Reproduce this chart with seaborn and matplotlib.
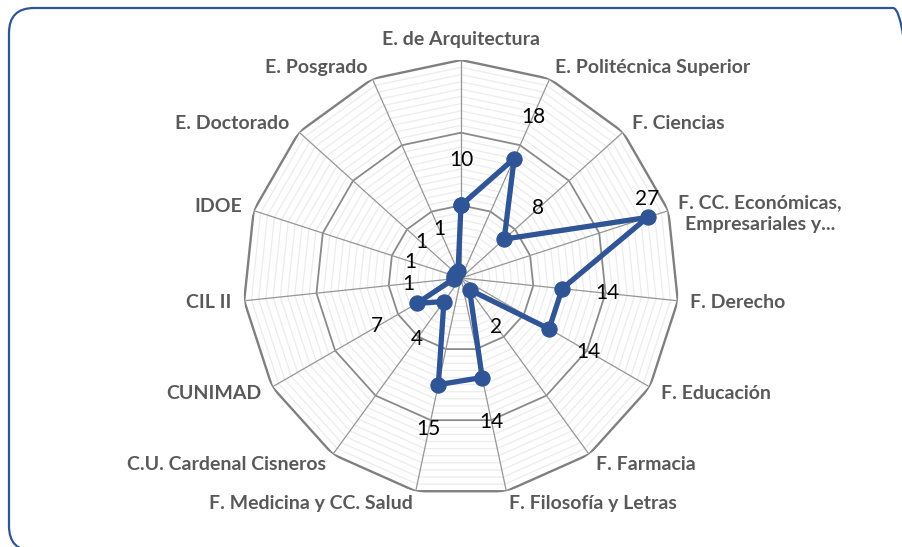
import numpy as np
import matplotlib
matplotlib.use("Agg")
import matplotlib.pyplot as plt
import seaborn as sns
from matplotlib.patches import FancyBboxPatch

# data
categories = ["E. de Arquitectura", "E. Politécnica Superior", "F. Ciencias",
              "F. CC. Económicas,\nEmpresariales y...", "F. Derecho", "F. Educación",
              "F. Farmacia", "F. Filosofía y Letras", "F. Medicina y CC. Salud",
              "C.U. Cardenal Cisneros", "CUNIMAD", "CIL II", "IDOE",
              "E. Doctorado", "E. Posgrado"]
values = [10, 18, 8, 27, 14, 14, 2, 14, 15, 4, 7, 1, 1, 1, 1]
r_max = 30
major_rings = [10, 20, 30]
minor_rings = [v for v in range(1, 30) if v % 10 != 0]

sns.set_style("white")
plt.rcParams["font.family"] = ["Lato", "DejaVu Sans"]

blue = "#2F5597"
n = len(categories)
theta = np.linspace(0, 2 * np.pi, n, endpoint=False)
theta_closed = np.append(theta, 2 * np.pi)

fig = plt.figure(figsize=(9.03, 5.47), dpi=100)
ax = fig.add_axes([243 / 903, 51 / 547, 436 / 903, 436 / 547], polar=True)
ax.set_theta_zero_location("N")
ax.set_theta_direction(-1)
ax.set_ylim(0, r_max)
ax.grid(False)
ax.spines["polar"].set_visible(False)
ax.set_xticks([])
ax.set_yticks([])

# polygon grid
for r in minor_rings:
    ax.plot(theta_closed, [r] * (n + 1), color="#ececec", lw=0.9, zorder=1)
for r in major_rings:
    outer = r == r_max
    ax.plot(theta_closed, [r] * (n + 1), color="#7f7f7f" if outer else "#8a8a8a",
            lw=1.7 if outer else 1.3, zorder=2)
for t in theta:
    ax.plot([t, t], [0, r_max], color="#969696", lw=0.9, zorder=2)

# data series
sns.lineplot(x=theta_closed, y=values + values[:1], sort=False, estimator=None,
             color=blue, lw=3.8, marker="o", markersize=11, markeredgecolor=blue,
             ax=ax, zorder=5)
ax.set_xlabel("")
ax.set_ylabel("")

# data labels
for t, v in zip(theta, values):
    if v == 27:
        off = (0, 13)
    else:
        off = (33 * np.sin(t), 33 * np.cos(t))
    ax.annotate(str(v), xy=(t, v), xytext=off, textcoords="offset points",
                ha="center", va="center", fontsize=15, color="black", zorder=6)

# category labels
for t, lab in zip(theta, categories):
    s, c = np.sin(t), np.cos(t)
    if abs(s) < 0.05:
        ha, va, off = "center", "bottom", (0, 9)
    else:
        ha = "left" if s > 0 else "right"
        va = "center"
        off = (9 * s, 9 * c)
    if "\n" in lab:
        off = (7, -2)
    ax.annotate(lab, xy=(t, r_max), xytext=off, textcoords="offset points",
                ha=ha, va=va, multialignment="center", linespacing=1.3,
                fontsize=14, fontweight="bold", color="#595959",
                annotation_clip=False)

# rounded chart border
border = FancyBboxPatch((9, -4), 909, 543, boxstyle="round,pad=0,rounding_size=25",
                        transform=None, fill=False, edgecolor=blue, lw=1.6)
fig.add_artist(border)

fig.savefig("out.png", dpi=100)
